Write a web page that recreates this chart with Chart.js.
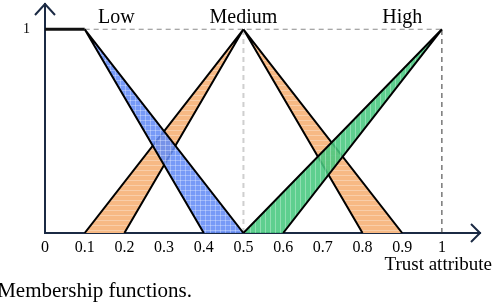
<!DOCTYPE html>
<html>
<head>
<meta charset="utf-8">
<script src="https://cdn.jsdelivr.net/npm/chart.js@4/dist/chart.umd.min.js"></script>
<style>
    body { margin: 0; background: #fff; }
    canvas { display: block; }
</style>
</head>
<body>
<canvas id="membership" width="494" height="304"></canvas>
<script>
// tick labels
const xTicks = [0, 0.1, 0.2, 0.3, 0.4, 0.5, 0.6, 0.7, 0.8, 0.9, 1];
const yTicks = [1];

// linguistic terms and where their names sit (x in trust units)
const termNames = ["Low", "Medium", "High"];
const termCenters = [0.18, 0.5, 0.9];

// membership bands: [x, y] corners, the fill closes along the bottom
const lowFlat = [[0, 1], [0.1, 1]];
const lowBand = [[0.4, 0], [0.1, 1], [0.5, 0]];
const mediumLeft = [[0.1, 0], [0.5, 1], [0.2, 0]];
const mediumRight = [[0.8, 0], [0.5, 1], [0.9, 0]];
const highBand = [[0.5, 0], [1, 1], [0.6, 0]];

// dashed guides
const guideTop = [[0.1, 1], [1, 1]];
const guideMid = [[0.5, 0], [0.5, 1]];
const guideEnd = [[1, 0], [1, 1]];

const serif = "'Liberation Serif', 'Times New Roman', serif";
const axisColor = "#1b2a44";

const pts = arr => arr.map(p => ({x: p[0], y: p[1]}));

const makePattern = function (base, stripe, kind) {
    const c = document.createElement("canvas");
    c.width = 5;
    c.height = 5;
    const g = c.getContext("2d");
    g.fillStyle = base;
    g.fillRect(0, 0, 5, 5);
    g.fillStyle = stripe;
    if (kind === "h" || kind === "grid") g.fillRect(0, 0, 5, 1);
    if (kind === "v" || kind === "grid") g.fillRect(0, 0, 1, 5);
    return g.createPattern(c, "repeat");
};

const bluePattern = makePattern("rgba(100,140,246,0.88)", "rgba(255,255,255,0.3)", "grid");
const orangePattern = makePattern("rgb(247,185,132)", "rgba(255,255,255,0.3)", "h");
const greenPattern = makePattern("rgba(72,200,128,0.88)", "rgba(255,255,255,0.3)", "v");

const band = (data, fill, order) => ({
    data: pts(data),
    showLine: true,
    fill: "shape",
    backgroundColor: fill,
    borderColor: "#000",
    borderWidth: 2,
    borderJoinStyle: "miter",
    pointRadius: 0,
    tension: 0,
    order: order
});

const guide = (data, color, width, order) => ({
    data: pts(data),
    showLine: true,
    fill: false,
    borderColor: color,
    borderWidth: width,
    borderDash: [5, 4],
    pointRadius: 0,
    order: order
});

const decorations = {
    id: "decorations",
    afterDraw(chart) {
        const ctx = chart.ctx;
        const area = chart.chartArea;
        const xs = chart.scales.x, ys = chart.scales.y;
        ctx.save();

        // arrow heads on both axes
        ctx.strokeStyle = axisColor;
        ctx.lineWidth = 2;
        ctx.lineJoin = "miter";
        ctx.beginPath();
        ctx.moveTo(area.left - 10, area.top + 11);
        ctx.lineTo(area.left, area.top);
        ctx.lineTo(area.left + 10, area.top + 11);
        ctx.moveTo(area.right - 9, area.bottom - 9);
        ctx.lineTo(area.right, area.bottom);
        ctx.lineTo(area.right - 9, area.bottom + 9);
        ctx.stroke();

        // term names
        ctx.fillStyle = "#000";
        ctx.font = "20px " + serif;
        ctx.textAlign = "center";
        ctx.textBaseline = "alphabetic";
        termNames.forEach((name, i) => {
            ctx.fillText(name, xs.getPixelForValue(termCenters[i]), ys.getPixelForValue(1) - 6);
        });

        ctx.font = "19px " + serif;
        ctx.textAlign = "right";
        ctx.fillText("Trust attribute", 492, 270);

        ctx.font = "21px " + serif;
        ctx.fillText("Membership functions.", 192, 297);
        ctx.restore();
    }
};

new Chart(document.getElementById("membership").getContext("2d"), {
    type: "scatter",
    data: {
        datasets: [
            guide(guideTop, "#8a8a8a", 1, 10),
            guide(guideMid, "#cfcfcf", 2, 10),
            guide(guideEnd, "#333333", 1, 10),
            band(mediumLeft, orangePattern, 5),
            band(mediumRight, orangePattern, 5),
            band(lowBand, bluePattern, 3),
            band(highBand, greenPattern, 3),
            {
                data: pts(lowFlat),
                showLine: true,
                borderColor: "#111",
                borderWidth: 3,
                pointRadius: 0,
                order: 1
            }
        ]
    },
    options: {
        responsive: false,
        animation: false,
        layout: {padding: {top: 4, right: 14, left: 0, bottom: 0}},
        plugins: {
            legend: {display: false},
            tooltip: {enabled: false}
        },
        scales: {
            x: {
                type: "linear",
                min: 0,
                max: 1.096,
                grid: {display: false},
                border: {display: true, color: axisColor, width: 2},
                afterBuildTicks: scale => { scale.ticks = xTicks.map(v => ({value: v})); },
                afterFit: scale => {
                    scale.height = 71;
                    scale.paddingLeft = 0;
                    scale.paddingRight = 0;
                },
                ticks: {
                    padding: -3,
                    autoSkip: false,
                    maxRotation: 0,
                    color: "#000",
                    font: {family: serif, size: 16},
                    callback: v => String(v)
                }
            },
            y: {
                type: "linear",
                min: 0,
                max: 1.124,
                grid: {display: false},
                border: {display: true, color: axisColor, width: 2},
                afterBuildTicks: scale => { scale.ticks = yTicks.map(v => ({value: v})); },
                afterFit: scale => {
                    scale.width = 45;
                    scale.paddingTop = 0;
                    scale.paddingBottom = 0;
                },
                ticks: {
                    padding: 7,
                    color: "#000",
                    font: {family: serif, size: 14},
                    callback: v => String(v)
                }
            }
        }
    },
    plugins: [decorations]
});
</script>
</body>
</html>
